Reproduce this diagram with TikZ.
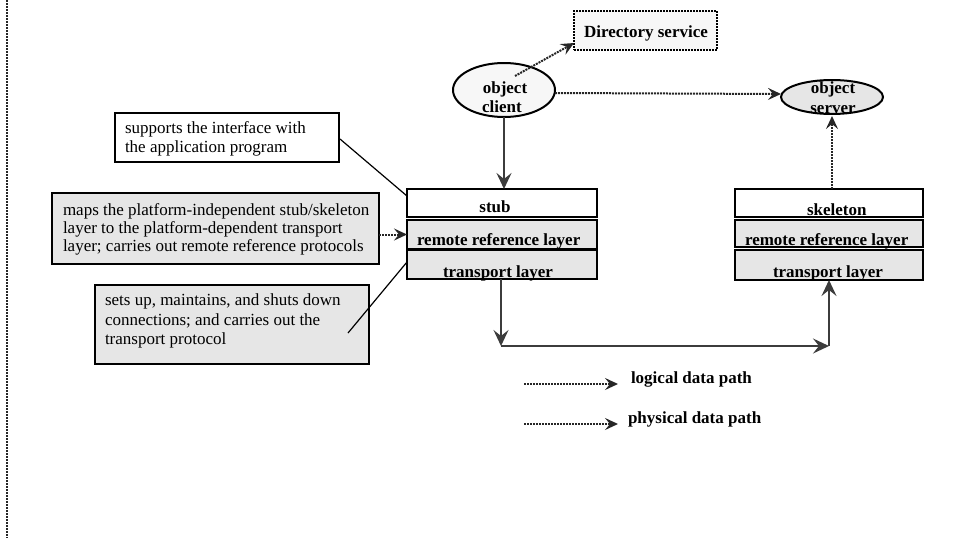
\documentclass[tikz,border=0pt]{standalone}
\usepackage{fontspec}
\setmainfont{Liberation Serif}
\usetikzlibrary{arrows.meta,shapes.geometric}
\definecolor{panelgrey}{RGB}{230,230,230}
\definecolor{paleshade}{RGB}{247,247,247}
\definecolor{inkgrey}{RGB}{60,60,60}

\begin{document}
\begin{tikzpicture}[x=1pt,y=-1pt,
  every node/.style={inner sep=0pt, outer sep=0pt, font=\fontsize{17}{19.3}\selectfont},
  lbl/.style={font=\fontsize{17}{19.3}\selectfont\bfseries, anchor=base},
  lblw/.style={font=\fontsize{17}{19.3}\selectfont\bfseries, anchor=base west},
  notetext/.style={anchor=base west},
  layerbox/.style={draw=black, line width=2.2pt, rectangle},
  callout/.style={draw=black, line width=1.8pt, rectangle, fill=panelgrey},
  dotline/.style={line width=2pt, dash pattern=on 2pt off 1pt, draw=black!85},
  solidpath/.style={line width=2.2pt, draw=inkgrey},
  bigtip/.style={-{Stealth[length=16pt,width=15pt,inset=6pt]}},
  smalltip/.style={-{Stealth[length=13pt,width=12pt,inset=5pt]}},
]
\useasboundingbox (0,0) rectangle (961,538);

% left edge rule
\coordinate (edgetop) at (7,0);
\coordinate (edgebot) at (7,538);
\draw[dotline, line width=2.6pt] (edgetop) -- (edgebot);

% directory service and the two objects
\node[draw=black, line width=1.8pt, dash pattern=on 2pt off 1pt, fill=paleshade,
      minimum width=143pt, minimum height=39pt] (dir) at (645.5,30.5) {};
\node[lbl] (dirtxt) at (646,37) {Directory service};

\node[ellipse, draw=black, line width=2pt, fill=paleshade,
      minimum width=102pt, minimum height=54pt] (client) at (504,90) {};
\node[lbl] (clienttxt1) at (505,93) {object};
\node[lbl] (clienttxt2) at (502,112) {client};

\node[ellipse, draw=black, line width=2pt, fill=panelgrey,
      minimum width=102pt, minimum height=34pt] (server) at (832,97) {};
\node[lbl] (servertxt1) at (833,93) {object};
\node[lbl] (servertxt2) at (833,113) {server};

% client-side layer stack
\node[layerbox, fill=white, minimum width=190pt, minimum height=28pt] (stub) at (502,203) {};
\node[layerbox, fill=panelgrey, minimum width=190pt, minimum height=29pt] (srrl) at (502,234.5) {};
\node[layerbox, fill=panelgrey, minimum width=190pt, minimum height=29pt] (str) at (502,264.5) {};
\node[lbl] (stubtxt) at (495,212) {stub};
\node[lblw] (srrltxt) at (417,245) {remote reference layer};
\node[lblw] (strtxt) at (443,277) {transport layer};

% server-side layer stack
\node[layerbox, fill=white, minimum width=188pt, minimum height=28pt] (skel) at (829,203) {};
\node[layerbox, fill=panelgrey, minimum width=188pt, minimum height=27pt] (krrl) at (829,233.5) {};
\node[layerbox, fill=panelgrey, minimum width=188pt, minimum height=30pt] (ktr) at (829,265) {};
\node[lblw] (skeltxt) at (807,215) {skeleton};
\node[lblw] (krrltxt) at (745,245) {remote reference layer};
\node[lblw] (ktrtxt) at (773,277) {transport layer};

% explanatory notes
\node[callout, fill=white, minimum width=224pt, minimum height=49pt] (note1) at (227,137.5) {};
\node[notetext] (note1a) at (125,133) {supports the interface with};
\node[notetext] (note1b) at (125,152) {the application program};

\node[callout, minimum width=327pt, minimum height=71pt] (note2) at (215.5,228.5) {};
\node[notetext] (note2a) at (63,215) {maps the platform-independent stub/skeleton};
\node[notetext] (note2b) at (63,233) {layer to the platform-dependent transport};
\node[notetext] (note2c) at (63,251) {layer; carries out remote reference protocols};

\node[callout, minimum width=274pt, minimum height=79pt] (note3) at (232,324.5) {};
\node[notetext] (note3a) at (105,305) {sets up, maintains, and shuts down};
\node[notetext] (note3b) at (105,325) {connections; and carries out the};
\node[notetext] (note3c) at (105,344) {transport protocol};

% logical data paths
\draw[dotline, smalltip] ([shift={(11,-14)}]client.center) -- ([shift={(0,-7)}]dir.south west);
\draw[dotline, smalltip] ([shift={(0,3)}]client.east) -- ([shift={(0,-3)}]server.west);
\draw[dotline, smalltip] (server.south |- skel.north) -- ([shift={(0,2)}]server.south);

% physical data path
\coordinate (pc1) at (501,346);
\coordinate (pc2) at (829,346);
\draw[solidpath, bigtip] (client.south) -- (client.south |- stub.north);
\draw[solidpath, bigtip] (str.south -| pc1) -- (pc1);
\draw[solidpath, bigtip] (pc1) -- (pc2);
\draw[solidpath, bigtip] (pc2) -- (ktr.south);

% note pointers
\draw[line width=1.2pt] ([shift={(1,1.5)}]note1.east) -- ([shift={(0,7)}]stub.north west);
\draw[dotline, smalltip] (note2.east |- srrl.west) -- (srrl.west);
\draw[line width=1.2pt] ([shift={(-21,8.5)}]note3.east) -- ([shift={(0,-2.5)}]str.west);

% legend
\coordinate (lega1) at (524,384);
\coordinate (lega2) at (618,384);
\coordinate (legb1) at (524,424);
\coordinate (legb2) at (618,424);
\draw[dotline, smalltip] (lega1) -- (lega2);
\draw[dotline, smalltip] (legb1) -- (legb2);
\node[lblw] (legatxt) at (631,383) {logical data path};
\node[lblw] (legbtxt) at (628,423) {physical data path};
\end{tikzpicture}
\end{document}
